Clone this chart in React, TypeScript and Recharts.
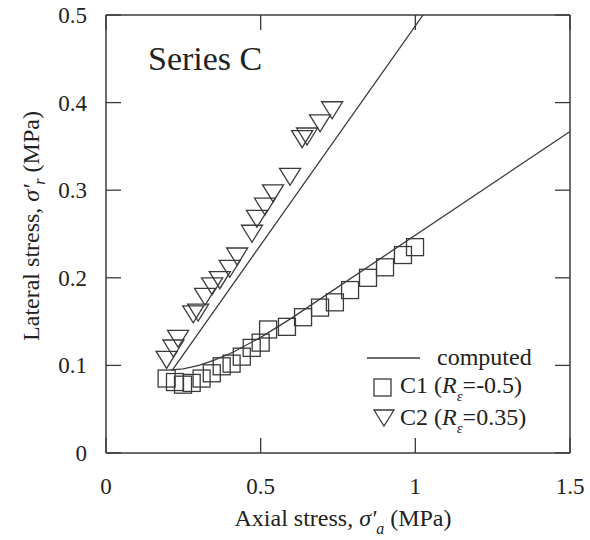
import React from 'react';
import { ScatterChart, Scatter, XAxis, YAxis, Legend } from 'recharts';

const xTicks = [0, 0.5, 1, 1.5];
const yTicks = [0, 0.1, 0.2, 0.3, 0.4, 0.5];

// C1 (R_eps = -0.5) measured points (squares)
const c1X = [0.196, 0.223, 0.249, 0.277, 0.309, 0.342, 0.374, 0.406, 0.439, 0.471, 0.5, 0.524, 0.585, 0.637, 0.692, 0.74, 0.789, 0.847, 0.902, 0.96, 0.999];
const c1Y = [0.085, 0.081, 0.078, 0.08, 0.085, 0.091, 0.099, 0.102, 0.11, 0.12, 0.126, 0.141, 0.144, 0.155, 0.166, 0.172, 0.186, 0.2, 0.212, 0.226, 0.235];

// C2 (R_eps = 0.35) measured points (triangles)
const c2X = [0.196, 0.218, 0.233, 0.282, 0.298, 0.32, 0.343, 0.368, 0.4, 0.424, 0.472, 0.488, 0.514, 0.54, 0.595, 0.634, 0.65, 0.692, 0.731];
const c2Y = [0.108, 0.121, 0.132, 0.16, 0.162, 0.18, 0.192, 0.199, 0.212, 0.226, 0.252, 0.269, 0.283, 0.298, 0.317, 0.36, 0.363, 0.378, 0.393];

// computed curves
const compC1X = [0.21, 0.25, 0.3, 0.35, 0.41, 0.5, 0.6, 1.5];
const compC1Y = [0.095, 0.096, 0.1, 0.106, 0.115, 0.132, 0.154, 0.367];
const compC2X = [0.215, 1.025];
const compC2Y = [0.095, 0.5];

const zip = (xs: number[], ys: number[]) => xs.map((x, i) => ({ x, y: ys[i] }));

const c1Data = zip(c1X, c1Y);
const c2Data = zip(c2X, c2Y);
const compC1 = zip(compC1X, compC1Y);
const compC2 = zip(compC2X, compC2Y);

const INK = '#3a3a3a';
const FONT = '"Liberation Serif", "Times New Roman", serif';
const TICK_LEN = 15;

const SquareShape = (p: any) => (
  <rect x={p.cx - 8.5} y={p.cy - 8.5} width={17} height={17} fill="none" stroke={INK} strokeWidth={1.3} />
);
const TriShape = (p: any) => (
  <polygon
    points={`${p.cx - 10.5},${p.cy - 7} ${p.cx + 10.5},${p.cy - 7} ${p.cx},${p.cy + 10}`}
    fill="none"
    stroke={INK}
    strokeWidth={1.3}
    strokeLinejoin="miter"
  />
);
const NoShape = () => <g />;

const BottomTick = (p: any) => (
  <g>
    <line x1={p.x} x2={p.x} y1={p.y} y2={p.y - TICK_LEN} stroke={INK} strokeWidth={1.3} />
    <text x={p.x} y={p.y + 41} textAnchor="middle" fontFamily={FONT} fontSize={23} fill="#222">
      {p.payload.value}
    </text>
  </g>
);
const TopTick = (p: any) => (
  <line x1={p.x} x2={p.x} y1={p.y} y2={p.y + TICK_LEN} stroke={INK} strokeWidth={1.3} />
);
const LeftTick = (p: any) => (
  <g>
    <line x1={p.x} x2={p.x + TICK_LEN} y1={p.y} y2={p.y} stroke={INK} strokeWidth={1.3} />
    <text x={p.x - 19} y={p.y + 8} textAnchor="end" fontFamily={FONT} fontSize={23} fill="#222">
      {p.payload.value}
    </text>
  </g>
);
const RightTick = (p: any) => (
  <line x1={p.x} x2={p.x - TICK_LEN} y1={p.y} y2={p.y} stroke={INK} strokeWidth={1.3} />
);

const XTitle = (p: any) => {
  const vb = p.viewBox;
  const cx = vb.x + vb.width / 2 + 5;
  return (
    <text x={cx} y={vb.y + 73} textAnchor="middle" fontFamily={FONT} fontSize={24} fill="#222">
      Axial stress,{' '}
      <tspan fontStyle="italic">σ</tspan>
      <tspan fontStyle="italic">'</tspan>
      <tspan fontStyle="italic" fontSize={16} dy={8}>a</tspan>
      <tspan dy={-8}> (MPa)</tspan>
    </text>
  );
};

const YTitle = (p: any) => {
  const vb = p.viewBox;
  const cx = 31;
  const cy = vb.y + vb.height / 2 - 8;
  return (
    <text
      x={cx}
      y={cy}
      transform={`rotate(-90 ${cx} ${cy})`}
      textAnchor="middle"
      fontFamily={FONT}
      fontSize={24}
      fill="#222"
      dominantBaseline="central"
    >
      Lateral stress,{' '}
      <tspan fontStyle="italic">σ</tspan>
      <tspan fontStyle="italic">'</tspan>
      <tspan fontStyle="italic" fontSize={16} dy={8}>r</tspan>
      <tspan dy={-8}> (MPa)</tspan>
    </text>
  );
};

const LegendBox = () => (
  <svg width={220} height={95} style={{ display: 'block', overflow: 'visible' }}>
    <line x1={7} x2={60} y1={18} y2={18} stroke={INK} strokeWidth={1.3} />
    <text x={77} y={25} fontFamily={FONT} fontSize={24} fill="#222">computed</text>
    <rect x={14} y={39} width={17} height={17} fill="none" stroke={INK} strokeWidth={1.3} />
    <text x={40} y={53} fontFamily={FONT} fontSize={24} fill="#222">
      C1 (<tspan fontStyle="italic">R</tspan>
      <tspan fontStyle="italic" fontSize={15} dy={8}>ε</tspan>
      <tspan dy={-8}>=-0.5)</tspan>
    </text>
    <polygon points="14,70 34,70 24,86" fill="none" stroke={INK} strokeWidth={1.3} />
    <text x={40} y={85} fontFamily={FONT} fontSize={24} fill="#222">
      C2 (<tspan fontStyle="italic">R</tspan>
      <tspan fontStyle="italic" fontSize={15} dy={8}>ε</tspan>
      <tspan dy={-8}>=0.35)</tspan>
    </text>
  </svg>
);

export default function App() {
  return (
    <div style={{ position: 'absolute', left: 0, top: 0, width: 590, height: 540, background: '#fff' }}>
      <ScatterChart width={590} height={540} margin={{ top: 0, right: 0, bottom: 0, left: 0 }}>
        <XAxis
          xAxisId="b"
          type="number"
          dataKey="x"
          domain={[0, 1.5]}
          ticks={xTicks}
          interval={0}
          allowDataOverflow
          height={87}
          tickSize={0}
          tickMargin={0}
          tickLine={false}
          axisLine={{ stroke: INK, strokeWidth: 1.5 }}
          tick={(p: any) => <BottomTick {...p} />}
          label={{ content: (p: any) => <XTitle {...p} /> }}
        />
        <XAxis
          xAxisId="t"
          orientation="top"
          type="number"
          dataKey="x"
          domain={[0, 1.5]}
          ticks={xTicks}
          interval={0}
          allowDataOverflow
          height={15}
          tickSize={0}
          tickMargin={0}
          tickLine={false}
          axisLine={{ stroke: INK, strokeWidth: 1.5 }}
          tick={(p: any) => <TopTick {...p} />}
        />
        <YAxis
          yAxisId="l"
          type="number"
          dataKey="y"
          domain={[0, 0.5]}
          ticks={yTicks}
          interval={0}
          allowDataOverflow
          width={106}
          tickSize={0}
          tickMargin={0}
          tickLine={false}
          axisLine={{ stroke: INK, strokeWidth: 1.5 }}
          tick={(p: any) => <LeftTick {...p} />}
          label={{ content: (p: any) => <YTitle {...p} /> }}
        />
        <YAxis
          yAxisId="r"
          orientation="right"
          type="number"
          dataKey="y"
          domain={[0, 0.5]}
          ticks={yTicks}
          interval={0}
          allowDataOverflow
          width={20}
          tickSize={0}
          tickMargin={0}
          tickLine={false}
          axisLine={{ stroke: INK, strokeWidth: 1.5 }}
          tick={(p: any) => <RightTick {...p} />}
        />
        <Scatter xAxisId="b" yAxisId="l" name="computed C1" data={compC1} line={{ stroke: INK, strokeWidth: 1.3 }} shape={NoShape} isAnimationActive={false} />
        <Scatter xAxisId="b" yAxisId="l" name="computed C2" data={compC2} line={{ stroke: INK, strokeWidth: 1.3 }} shape={NoShape} isAnimationActive={false} />
        <Scatter xAxisId="b" yAxisId="l" name="C1" data={c1Data} shape={SquareShape} isAnimationActive={false} />
        <Scatter xAxisId="b" yAxisId="l" name="C2" data={c2Data} shape={TriShape} isAnimationActive={false} />
        <Legend
          layout="vertical"
          align="center"
          verticalAlign="middle"
          content={() => <LegendBox />}
          wrapperStyle={{ position: 'absolute', left: 360, top: 340, width: 220, height: 95 }}
        />
        <text x={148} y={70} fontFamily={FONT} fontSize={34} fill="#222">Series C</text>
      </ScatterChart>
    </div>
  );
}
